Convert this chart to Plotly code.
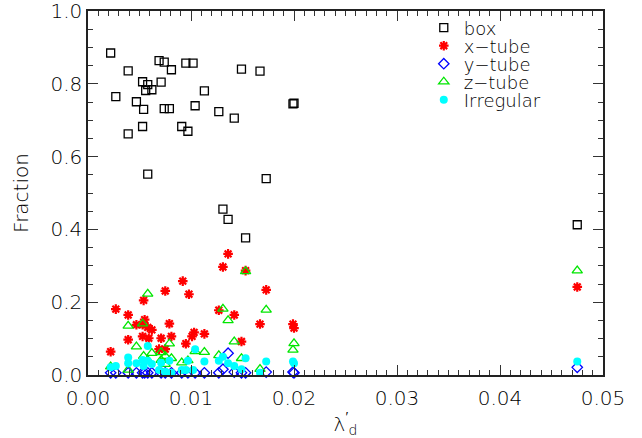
import plotly.graph_objects as go

# ---- data ----
box_x = [0.0022, 0.0027, 0.0039, 0.0039, 0.0047, 0.0053, 0.0054, 0.0053, 0.0058, 0.0056,
         0.0062, 0.0058, 0.0069, 0.0074, 0.0071, 0.0081, 0.0074, 0.0079, 0.0091, 0.0097,
         0.0095, 0.0102, 0.0104, 0.0113, 0.0127, 0.0142, 0.0149, 0.0167, 0.0173, 0.0199,
         0.0200, 0.0131, 0.0136, 0.0153, 0.0475]
box_y = [0.885, 0.765, 0.836, 0.663, 0.751, 0.683, 0.730, 0.806, 0.798, 0.782,
         0.784, 0.552, 0.864, 0.860, 0.805, 0.839, 0.732, 0.732, 0.683, 0.670,
         0.857, 0.857, 0.740, 0.781, 0.724, 0.706, 0.841, 0.835, 0.540, 0.745,
         0.747, 0.456, 0.428, 0.377, 0.413]

xtube_x = [0.0022, 0.0027, 0.0039, 0.0039, 0.0047, 0.0054, 0.0055, 0.0053, 0.0058, 0.0062,
           0.0053, 0.0059, 0.0075, 0.0071, 0.0079, 0.0081, 0.0069, 0.0075, 0.0092, 0.0098,
           0.0095, 0.0101, 0.0103, 0.0113, 0.0127, 0.0131, 0.0136, 0.0142, 0.0149, 0.0153,
           0.0167, 0.0173, 0.0199, 0.0200, 0.0475]
xtube_y = [0.064, 0.181, 0.165, 0.097, 0.138, 0.205, 0.152, 0.138, 0.131, 0.124,
           0.106, 0.101, 0.231, 0.101, 0.141, 0.106, 0.071, 0.071, 0.258, 0.222,
           0.086, 0.106, 0.117, 0.113, 0.178, 0.297, 0.333, 0.165, 0.092, 0.287,
           0.140, 0.234, 0.140, 0.129, 0.242]

ytube_x = [0.0022, 0.0027, 0.0039, 0.0047, 0.0053, 0.0055, 0.0058, 0.0062, 0.0071, 0.0075,
           0.0081, 0.0091, 0.0097, 0.0104, 0.0113, 0.0127, 0.0131, 0.0136, 0.0142, 0.0149,
           0.0153, 0.0173, 0.0199, 0.0200, 0.0475]
ytube_y = [0.006, 0.006, 0.006, 0.006, 0.006, 0.006, 0.006, 0.006, 0.006, 0.006,
           0.006, 0.006, 0.006, 0.006, 0.006, 0.006, 0.016, 0.060, 0.008, 0.006,
           0.006, 0.008, 0.008, 0.006, 0.021]

ztube_x = [0.0022, 0.0039, 0.0039, 0.0047, 0.0053, 0.0058, 0.0054, 0.0062, 0.0058, 0.0071,
           0.0075, 0.0079, 0.0081, 0.0071, 0.0075, 0.0091, 0.0097, 0.0104, 0.0113, 0.0127,
           0.0131, 0.0136, 0.0142, 0.0149, 0.0153, 0.0167, 0.0173, 0.0200, 0.0199, 0.0475]
ztube_y = [0.023, 0.135, 0.014, 0.078, 0.141, 0.223, 0.052, 0.060, 0.041, 0.062,
           0.052, 0.086, 0.046, 0.041, 0.030, 0.034, 0.040, 0.065, 0.063, 0.054,
           0.182, 0.150, 0.092, 0.046, 0.285, 0.016, 0.179, 0.087, 0.069, 0.287]

irr_x = [0.0022, 0.0027, 0.0039, 0.0039, 0.0047, 0.0058, 0.0053, 0.0058, 0.0054, 0.0062,
         0.0071, 0.0079, 0.0075, 0.0081, 0.0069, 0.0091, 0.0095, 0.0097, 0.0104, 0.0102,
         0.0113, 0.0127, 0.0131, 0.0136, 0.0142, 0.0149, 0.0153, 0.0167, 0.0173, 0.0199,
         0.0200, 0.0475]
irr_y = [0.021, 0.025, 0.048, 0.032, 0.032, 0.080, 0.041, 0.039, 0.025, 0.030,
         0.034, 0.039, 0.009, 0.006, 0.014, 0.014, 0.014, 0.039, 0.071, 0.014,
         0.037, 0.039, 0.050, 0.032, 0.025, 0.016, 0.046, 0.006, 0.037, 0.037,
         0.032, 0.037]

x_tickvals = [0.00, 0.01, 0.02, 0.03, 0.04, 0.05]
x_ticktext = ["0.00", "0.01", "0.02", "0.03", "0.04", "0.05"]
y_tickvals = [0.0, 0.2, 0.4, 0.6, 0.8, 1.0]
y_ticktext = ["0.0", "0.2", "0.4", "0.6", "0.8", "1.0"]

FONT = "DejaVu Sans"
WEIGHT = 200
TXT = "#000000"

W, H = 642, 438
ML, MR, MT, MB = 88, 39, 11, 63
plot_h = H - MT - MB

fig = go.Figure()
fig.add_trace(go.Scatter(x=box_x, y=box_y, mode="markers", name="box", cliponaxis=False,
                         legend="legend",
                         marker=dict(symbol="square-open", size=8, color="black",
                                     line=dict(width=1.3, color="black"))))
fig.add_trace(go.Scatter(x=xtube_x, y=xtube_y, mode="markers", name="x\u2212tube", cliponaxis=False,
                         legend="legend2",
                         marker=dict(symbol="asterisk-open", size=8, color="red",
                                     line=dict(width=2.2, color="red"))))
fig.add_trace(go.Scatter(x=ytube_x, y=ytube_y, mode="markers", name="y\u2212tube", cliponaxis=False,
                         legend="legend3",
                         marker=dict(symbol="diamond-open", size=8, color="blue",
                                     line=dict(width=1.3, color="blue"))))
fig.add_trace(go.Scatter(x=ztube_x, y=ztube_y, mode="markers", name="z\u2212tube", cliponaxis=False,
                         legend="legend4",
                         marker=dict(symbol="triangle-up-open", size=9, color="#00e600",
                                     line=dict(width=1.3, color="#00e600"))))
fig.add_trace(go.Scatter(x=irr_x, y=irr_y, mode="markers", name="Irregular", cliponaxis=False,
                         legend="legend5",
                         marker=dict(symbol="circle", size=8, color="#00ffff",
                                     line=dict(width=0))))

axis_common = dict(
    showgrid=False, zeroline=False, showline=True, linecolor="#222222", linewidth=1.5,
    mirror="allticks", ticks="inside", ticklen=10, tickwidth=1.2, tickcolor="#333333",
    automargin=False, ticklabeloverflow="allow",
    tickfont=dict(family=FONT, size=20, color=TXT, weight=WEIGHT),
)

fig.update_xaxes(range=[0, 0.05], tickvals=x_tickvals, ticktext=x_ticktext,
                 ticklabelstandoff=4,
                 minor=dict(dtick=0.001, ticks="inside", ticklen=5, tickcolor="#333333", tickwidth=1),
                 title=dict(text="\u03bb<sup>\u2032</sup><sub>d</sub>", standoff=8,
                            font=dict(family=FONT, size=20, color=TXT, weight=WEIGHT)),
                 **axis_common)
fig.update_yaxes(range=[0, 1.0005], tickvals=y_tickvals, ticktext=y_ticktext,
                 minor=dict(dtick=0.05, ticks="inside", ticklen=5, tickcolor="#333333", tickwidth=1),
                 title=dict(text="Fraction", standoff=16,
                            font=dict(family=FONT, size=20, color=TXT, weight=WEIGHT)),
                 **axis_common)

# one legend per series so the row spacing can follow the reference (18 px)
legend_rows_px = [28, 46, 64, 82, 100]
legend_style = dict(x=0.652, xanchor="left", yanchor="middle",
                    bgcolor="rgba(0,0,0,0)", borderwidth=0,
                    font=dict(family=FONT, size=18, color=TXT, weight=WEIGHT),
                    itemwidth=30)
legends = {}
for i, row in enumerate(legend_rows_px):
    key = "legend" if i == 0 else f"legend{i + 1}"
    legends[key] = dict(y=(H - MB - row) / plot_h, **legend_style)

fig.update_layout(
    width=W, height=H,
    margin=dict(l=ML, r=MR, t=MT, b=MB, autoexpand=False),
    paper_bgcolor="white", plot_bgcolor="white",
    showlegend=True,
    **legends,
)

fig.write_html("out.html", config={"displayModeBar": False},
               post_script="document.body.style.margin='0';")
